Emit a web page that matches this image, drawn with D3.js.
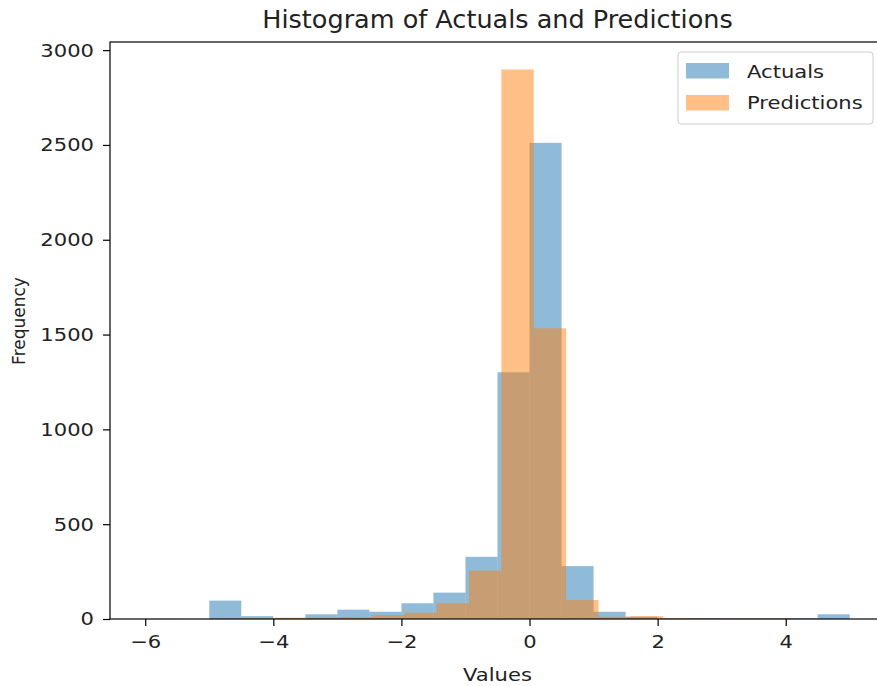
<!DOCTYPE html>
<html>
<head>
<meta charset="utf-8">
<script src="https://cdn.jsdelivr.net/npm/d3@7"></script>
<style>
  body { margin: 0; background: #fff; }
  text { font-family: 'DejaVu Sans', sans-serif; fill: #222; }
</style>
</head>
<body>
<div id="chart"></div>
<script>
// actuals: 20 bins of 0.5 from -5 to 5
const actualsRange = [-5, 5]
const actualsCounts = [97, 15, 4, 25, 49, 38, 83, 139, 328, 1301, 2511, 279, 38, 12, 3, 5, 3, 3, 4, 25]

// predictions: 20 bins between min and max
const predRange = [-6, 4.11]
const predCounts = [1, 0, 3, 3, 7, 8, 10, 21, 33, 83, 255, 2898, 1533, 100, 12, 15, 5, 3, 4, 4]

const xTicks = [-6, -4, -2, 0, 2, 4]
const yTicks = [0, 500, 1000, 1500, 2000, 2500, 3000]

const seriesNames = ['Actuals', 'Predictions']
const colors = ['#1f77b4', '#ff7f0e']

const W = 877
const H = 686
const margin = { top: 42, right: -8, bottom: 67, left: 110 }
const width = W - margin.left - margin.right
const height = H - margin.top - margin.bottom

// the picture's text is a bit wider than normal
const sx = 1.14

function makeBins(range, counts) {
  const step = (range[1] - range[0]) / counts.length
  return counts.map((c, i) => ({
    x0: range[0] + i * step,
    x1: range[0] + (i + 1) * step,
    count: c
  }))
}

function stretch(sel) {
  sel.each(function() {
    const t = d3.select(this)
    const tx = +t.attr('x') || 0
    t.attr('x', 0).attr('transform', 'translate(' + tx + ',0) scale(' + sx + ',1)')
  })
}

const actualBins = makeBins(actualsRange, actualsCounts)
const predBins = makeBins(predRange, predCounts)

// matplotlib style 5% margins
const lo = Math.min(actualsRange[0], predRange[0])
const hi = Math.max(actualsRange[1], predRange[1])
const pad = (hi - lo) * 0.05
const yMax = d3.max(predCounts.concat(actualsCounts)) * 1.05

const svg = d3
  .select('#chart')
  .append('svg')
  .attr('width', W)
  .attr('height', H)

const g = svg
  .append('g')
  .attr('transform', 'translate(' + margin.left + ',' + margin.top + ')')

const x = d3.scaleLinear().domain([lo - pad, hi + pad]).range([0, width])
const y = d3.scaleLinear().domain([0, yMax]).range([height, 0])

const seriesBins = [actualBins, predBins]

seriesBins.forEach((bins, i) => {
  g.append('g')
    .selectAll('rect')
    .data(bins)
    .enter()
    .append('rect')
    .attr('x', d => x(d.x0))
    .attr('width', d => x(d.x1) - x(d.x0))
    .attr('y', d => y(d.count))
    .attr('height', d => y(0) - y(d.count))
    .attr('fill', colors[i])
    .attr('fill-opacity', 0.5)
})

// spines
g.append('rect')
  .attr('x', 0)
  .attr('y', 0)
  .attr('width', width)
  .attr('height', height)
  .attr('fill', 'none')
  .attr('stroke', '#000')
  .attr('stroke-width', 1.2)

const xAxis = d3.axisBottom(x).tickValues(xTicks).tickSize(7).tickPadding(9)
  .tickFormat(d => String(d).replace('-', '\u2212'))
const yAxis = d3.axisLeft(y).tickValues(yTicks).tickSize(7).tickPadding(9)
  .tickFormat(d3.format('d'))

g.append('g')
  .attr('class', 'axis')
  .attr('transform', 'translate(0,' + height + ')')
  .call(xAxis)

g.append('g')
  .attr('class', 'axis')
  .call(yAxis)

g.selectAll('.axis .domain').remove()
g.selectAll('.axis text')
  .style('font-family', 'DejaVu Sans')
  .style('font-size', '18.5px')
  .attr('fill', '#222')
  .call(stretch)
g.selectAll('.axis line').attr('stroke', '#000').attr('stroke-width', 1.2)

// title and labels
svg.append('text')
  .attr('x', margin.left + width / 2)
  .attr('y', 27.5)
  .attr('text-anchor', 'middle')
  .style('font-size', '25.5px')
  .text('Histogram of Actuals and Predictions')

svg.append('text')
  .attr('x', margin.left + width / 2)
  .attr('y', 681)
  .attr('text-anchor', 'middle')
  .style('font-size', '18.5px')
  .text('Values')
  .call(stretch)

svg.append('text')
  .attr('transform', 'translate(25,321) rotate(-90)')
  .attr('text-anchor', 'middle')
  .style('font-size', '17px')
  .text('Frequency')

// legend
const legend = svg.append('g').attr('transform', 'translate(678,52)')
legend.append('rect')
  .attr('width', 195)
  .attr('height', 72)
  .attr('rx', 3)
  .attr('fill', '#fff')
  .attr('fill-opacity', 0.8)
  .attr('stroke', '#ccc')

seriesNames.forEach((name, i) => {
  legend.append('rect')
    .attr('x', 8)
    .attr('y', 11 + i * 32)
    .attr('width', 43)
    .attr('height', 15.5)
    .attr('fill', colors[i])
    .attr('fill-opacity', 0.5)
  legend.append('text')
    .attr('x', 69)
    .attr('y', 26 + i * 31)
    .style('font-size', '18.5px')
    .text(name)
    .call(stretch)
})
</script>
</body>
</html>
